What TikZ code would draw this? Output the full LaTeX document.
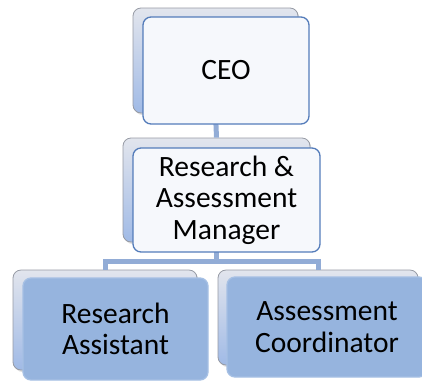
\documentclass[tikz,border=0pt]{standalone}
\usepackage{fontspec}
\setmainfont{Carlito}
\usetikzlibrary{shadows}
\definecolor{linkblue}{RGB}{146,172,214}
\definecolor{edgeblue}{RGB}{84,124,186}
\definecolor{paleface}{RGB}{246,248,252}
\definecolor{lowface}{RGB}{150,180,222}
\definecolor{lowedge}{RGB}{166,192,228}
\definecolor{backtop}{RGB}{226,229,237}
\definecolor{backbot}{RGB}{160,186,230}
\definecolor{backedge}{RGB}{150,154,164}
\tikzset{
  backcard/.style={rounded corners=8pt, draw=backedge, line width=0.8pt,
    top color=backtop, bottom color=backbot, inner sep=0pt,
    drop shadow={opacity=0.25, shadow xshift=1.5pt, shadow yshift=-2pt}},
  topcard/.style={rounded corners=8pt, draw=edgeblue, line width=1.3pt,
    fill=paleface, inner sep=0pt, align=center,
    font=\fontsize{29.5}{31.5}\selectfont},
  lowcard/.style={topcard, draw=lowedge, fill=lowface},
  link/.style={draw=linkblue, line width=5pt}
}
\begin{document}
\begin{tikzpicture}[x=1pt, y=-1pt]
  \useasboundingbox (0,0) rectangle (422,381);
  \coordinate (bus) at (216.5,261);
  \node[backcard, minimum width=165pt, minimum height=105pt] (ceoback) at (215.5,60.5) {};
  \node[backcard, minimum width=187pt, minimum height=104pt] (mgrback) at (216.5,190) {};
  \node[backcard, minimum width=184pt, minimum height=100pt] (raback) at (105,320) {};
  \node[backcard, minimum width=200pt, minimum height=95pt] (acback) at (318,317.5) {};
  \draw[link] (ceoback.south) -- (mgrback.north);
  \draw[link] (mgrback.south) -- (bus) -| (raback.north);
  \draw[link] (bus) -| (acback.north);
  \node[topcard, minimum width=166pt, minimum height=107pt] (ceo) at (226,70.5) {CEO};
  \node[topcard, minimum width=187pt, minimum height=104pt] (mgr) at (226.5,200) {Research \&\\Assessment\\Manager};
  \node[lowcard, minimum width=185pt, minimum height=102pt] (ra) at (115.5,329) {Research\\Assistant};
  \node[lowcard, minimum width=200pt, minimum height=100pt] (ac) at (327,327) {Assessment\\Coordinator};
\end{tikzpicture}
\end{document}
